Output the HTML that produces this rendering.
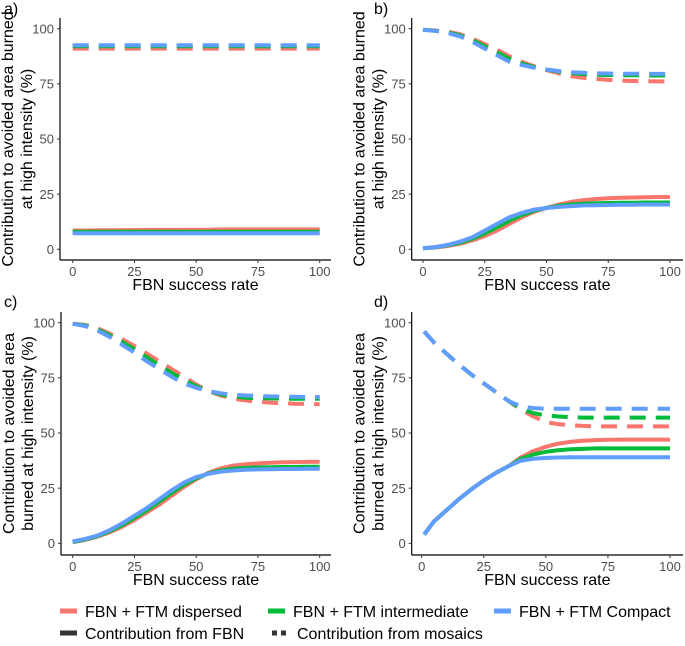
<!DOCTYPE html>
<html><head><meta charset="utf-8"><style>
body{margin:0;background:#fff;}
svg{display:block;font-family:"Liberation Sans",Arial,sans-serif;}
</style></head><body>
<svg id="chart" width="685" height="646" viewBox="0 0 685 646"></svg>
<script>
const xs=[0,5,10,15,20,25,30,35,40,45,50,55,60,65,70,75,80,85,90,95,100];
const xsD=[1,5,10,15,20,25,30,35,40,45,50,55,60,65,70,75,80,85,90,95,100];
const seriesNames=["dispersed","intermediate","compact"];
const colors=["#F8766D","#00BA38","#619CFF"];
const yTicks=[0,25,50,75,100];
const xTicks=[0,25,50,75,100];
// panel a
const aSolidRed=[8.5,8.5,8.6,8.6,8.7,8.7,8.8,8.8,8.8,8.9,8.9,8.9,9,9,9,9,9,9,9,9,9];
const aSolidGreen=[8,8,8,8,8,8,8,8,8,8,8,8,8,8,8,8,8,8,8,8,8];
const aSolidBlue=[7.3,7.3,7.3,7.3,7.3,7.3,7.3,7.3,7.3,7.3,7.3,7.3,7.3,7.3,7.3,7.3,7.3,7.3,7.3,7.3,7.3];
const aDashRed=[91,91,91,91,91,91,91,91,91,91,91,91,91,91,91,91,91,91,91,91,91];
const aDashGreen=[92,92,92,92,92,92,92,92,92,92,92,92,92,92,92,92,92,92,92,92,92];
const aDashBlue=[92.5,92.5,92.5,92.5,92.5,92.5,92.5,92.5,92.5,92.5,92.5,92.5,92.5,92.5,92.5,92.5,92.5,92.5,92.5,92.5,92.5];
// panel b
const bSolidRed=[0.5,0.8,1.5,2.5,4,6,8.5,11.5,14.5,17,18.8,20.3,21.5,22.3,22.8,23.1,23.4,23.5,23.6,23.7,23.7];
const bSolidGreen=[0.5,0.9,1.8,3,4.8,7.2,10,13,15.5,17.5,18.8,19.7,20.3,20.7,20.9,21,21.1,21.1,21.2,21.2,21.2];
const bSolidBlue=[0.5,1,2,3.5,5.5,8.5,11.5,14.5,16.5,18,18.7,19.2,19.6,19.9,20,20.1,20.2,20.2,20.3,20.3,20.3];
const bDashRed=[99.5,99.2,98.7,97.5,95.5,93,90.5,87.5,85,83,81.2,79.8,78.5,77.7,77.2,76.8,76.5,76.3,76.2,76.1,76];
const bDashGreen=[99.5,99.1,98.3,97,94.8,92,89.3,86.3,84.2,82.6,81.4,80.5,79.8,79.4,79.1,79,78.9,78.9,78.8,78.8,78.8];
const bDashBlue=[99.5,99,98,96.5,94,91,88,85,83.5,82.3,81.5,80.8,80.3,80,79.8,79.7,79.6,79.6,79.5,79.5,79.5];
// panel c
const cSolidRed=[0.5,1.5,3,5,7.5,10.5,14,17.5,21.5,25.5,29,32,34,35.2,35.8,36.2,36.5,36.7,36.8,36.9,37];
const cSolidGreen=[0.6,1.7,3.2,5.5,8.2,11.5,15,18.8,22.8,26.5,29.5,31.7,33,33.8,34.2,34.4,34.5,34.6,34.6,34.7,34.7];
const cSolidBlue=[0.8,2,3.5,6,9,12.5,16,20,24,27.5,30,31.5,32.5,33,33.3,33.5,33.6,33.7,33.7,33.8,33.8];
const cDashRed=[99.5,99,97.5,95,92.5,89.5,86,82.5,79,75.5,72,69,67,65.5,64.8,64.2,63.8,63.5,63.3,63.2,63];
const cDashGreen=[99.5,98.8,97,94.3,91.3,88,84.3,80.8,77.3,74,71.2,69,67.5,66.5,66,65.8,65.7,65.6,65.5,65.5,65.5];
const cDashBlue=[99.5,98.5,96.5,93.5,90,86.5,82.5,79,75.5,72.5,70.5,69,68,67.3,67,66.8,66.6,66.5,66.4,66.3,66.3];
// panel d
const dSolidRed=[4,10,15,20,24.5,28.5,32,35,39,41.8,43.8,45.2,46,46.5,46.8,46.9,47,47,47,47,47];
const dSolidGreen=[4,10,15,20,24.5,28.5,32,35,38.3,40.3,41.5,42.2,42.6,42.8,43,43,43,43,43,43,43];
const dSolidBlue=[4,10,15,20,24.5,28.5,32,35,37.5,38.3,38.7,38.9,39,39,39,39,39,39,39,39,39];
const dDashRed=[96,91,86,81,76.5,72.5,68.5,64.5,60.5,57.5,55,54,53.5,53.2,53,53,53,53,53,53,53];
const dDashGreen=[96,91,86,81,76.5,72.5,68.5,64.5,61,59,58,57.5,57.2,57,57,57,57,57,57,57,57];
const dDashBlue=[96,91,86,81,76.5,72.5,68.5,64.5,62,61.3,61,61,61,61,61,61,61,61,61,61,61];

const NS="http://www.w3.org/2000/svg";
const svg=document.getElementById('chart');
function mk(tag,attrs,parent,text){const e=document.createElementNS(NS,tag);for(const k in attrs)e.setAttribute(k,attrs[k]);if(text!==undefined)e.textContent=text;(parent||svg).appendChild(e);return e;}

const panels=[
 {label:"a)",lx:4,ly:14,x0:72.7,x100:319.7,y0:249.3,y100:28.7,ax:60,ab:260,atop:18,ar:331,ttl:["Contribution to avoided area burned","at high intensity (%)"],xt:290,xv:xs,
  solid:[aSolidRed,aSolidGreen,aSolidBlue],dash:[aDashRed,aDashGreen,aDashBlue]},
 {label:"b)",lx:374,ly:14,x0:423,x100:670,y0:249.3,y100:28.7,ax:411.7,ab:260,atop:18,ar:683,ttl:["Contribution to avoided area burned","at high intensity (%)"],xt:290,xv:xs,
  solid:[bSolidRed,bSolidGreen,bSolidBlue],dash:[bDashRed,bDashGreen,bDashBlue]},
 {label:"c)",lx:4,ly:307,x0:72.7,x100:319.7,y0:543.3,y100:322.7,ax:61,ab:555,atop:312,ar:331,ttl:["Contribution to avoided area","burned at high intensity (%)"],xt:585,xv:xs,
  solid:[cSolidRed,cSolidGreen,cSolidBlue],dash:[cDashRed,cDashGreen,cDashBlue]},
 {label:"d)",lx:374,ly:307,x0:421.7,x100:670,y0:543.3,y100:322.7,ax:411.7,ab:555,atop:312,ar:683,ttl:["Contribution to avoided area","burned at high intensity (%)"],xt:585,xv:xsD,
  solid:[dSolidRed,dSolidGreen,dSolidBlue],dash:[dDashRed,dDashGreen,dDashBlue]}
];
panels.forEach((p,pi)=>{
  const id="abcd"[pi];
  const g=mk('g',{});
  
  
  const X=v=>p.x0+(p.x100-p.x0)*v/100;
  const Y=v=>p.y0+(p.y100-p.y0)*v/100;
  const lab=mk('text',{x:p.lx,y:p.ly,'font-size':16,fill:'#000'},g,p.label);
  
  
  const drawSet=(arr,dash,kind)=>{arr.forEach((vals,si)=>{
    const pts=p.xv.map((x,i)=>X(x).toFixed(1)+','+Y(vals[i]).toFixed(1)).join(' ');
    const a={points:pts,fill:'none',stroke:colors[si],'stroke-width':4,'stroke-linejoin':'round'};
    if(dash)a['stroke-dasharray']='16 10';
    const pl=mk('polyline',a,g);
    
    
  });};
  drawSet(p.dash,true,'mosaics');
  drawSet(p.solid,false,'fbn');
  const ya=mk('line',{x1:p.ax,y1:p.atop,x2:p.ax,y2:p.ab,stroke:'#000','stroke-width':1.2},g);
  
  
  const xa=mk('line',{x1:p.ax,y1:p.ab,x2:p.ar,y2:p.ab,stroke:'#000','stroke-width':1.2},g);
  
  
  yTicks.forEach(t=>{
    mk('line',{x1:p.ax-3,y1:Y(t),x2:p.ax,y2:Y(t),stroke:'#333'},g);
    const tl=mk('text',{x:p.ax-6,y:Y(t)+4.7,'font-size':13,fill:'#4d4d4d','text-anchor':'end'},g,t);
    
    
  });
  xTicks.forEach(t=>{
    mk('line',{x1:X(t),y1:p.ab,x2:X(t),y2:p.ab+3,stroke:'#333'},g);
    const tl=mk('text',{x:X(t),y:p.ab+16,'font-size':13,fill:'#4d4d4d','text-anchor':'middle'},g,t);
    
    
  });
  const xt=mk('text',{x:(p.ax+p.ar)/2,y:p.xt,'font-size':16,fill:'#000','text-anchor':'middle'},g,'FBN success rate');
  
  
  const cy=(p.atop+p.ab)/2;
  const bx=p.ax-47;
  p.ttl.forEach((s,i)=>{
    const tx=bx+i*19;
    const yt=mk('text',{x:tx,y:cy,'font-size':16,fill:'#000','text-anchor':'middle',transform:'rotate(-90 '+tx+' '+cy+')'},g,s);
    
    
  });
});
const lg=mk('g',{});


const legItems=[
 {x:60,y:611,c:colors[0],t:"FBN + FTM dispersed",d:false,n:'legend-entry-dispersed'},
 {x:268,y:611,c:colors[1],t:"FBN + FTM intermediate",d:false,n:'legend-entry-intermediate'},
 {x:494,y:611,c:colors[2],t:"FBN + FTM Compact",d:false,n:'legend-entry-compact'},
 {x:60,y:633,c:'#333',t:"Contribution from FBN",d:false,n:'legend-entry-fbn'},
 {x:272,y:633,c:'#333',t:"Contribution from mosaics",d:true,n:'legend-entry-mosaics'}
];
legItems.forEach(it=>{
  const g=mk('g',{},lg);
  
  
  const a={x1:it.x,y1:it.y,x2:it.x+17,y2:it.y,stroke:it.c,'stroke-width':5};
  if(it.d)a['stroke-dasharray']='5 4';
  mk('line',a,g);
  mk('text',{x:it.x+25,y:it.y+6,'font-size':16,fill:'#000'},g,it.t);
});
</script>
</body></html>
